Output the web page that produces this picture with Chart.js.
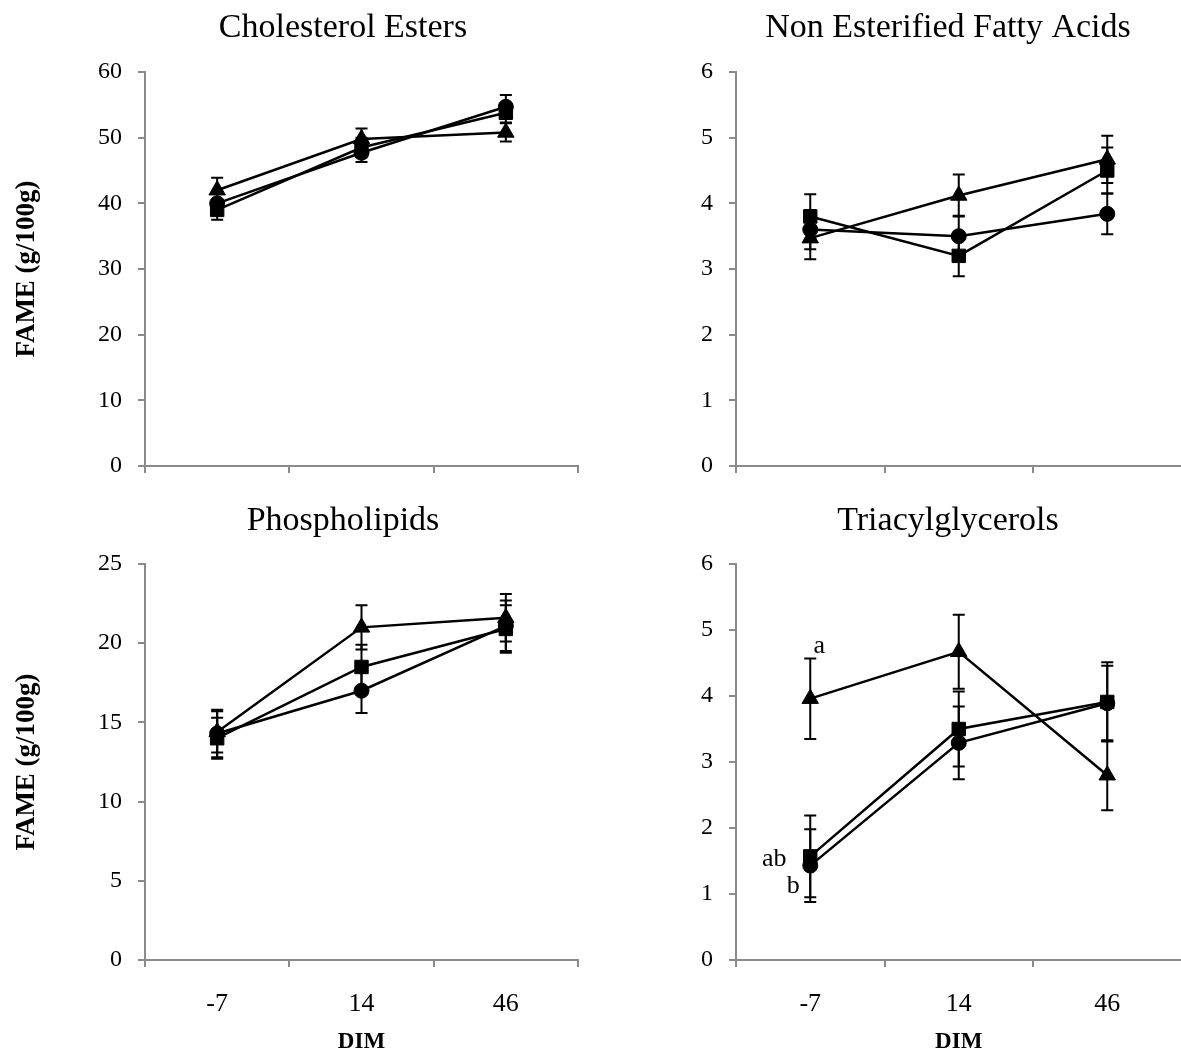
<!DOCTYPE html>
<html>
<head>
<meta charset="utf-8">
<script src="https://cdn.jsdelivr.net/npm/chart.js@4.4.1/dist/chart.umd.min.js"></script>
<style>
  html, body { margin: 0; padding: 0; background: #fff; width: 1181px; height: 1054px; overflow: hidden; }
  .panel { position: absolute; }
  .panel canvas { display: block; }
</style>
</head>
<body>
<div class="panel" style="left:0px;top:0px"><canvas id="ce" width="686" height="500"></canvas></div>
<div class="panel" style="left:590px;top:0px"><canvas id="nefa" width="716" height="500"></canvas></div>
<div class="panel" style="left:0px;top:500px"><canvas id="pl" width="686" height="554"></canvas></div>
<div class="panel" style="left:590px;top:500px"><canvas id="tag" width="716" height="554"></canvas></div>
<script>
// Days in milk (sampling points)
const days = ['-7', '14', '46'];

// Cholesterol esters (g/100 g FAME): means and SE
const ceCircle = [40.0, 47.7, 54.7];
const ceCircleSe = [1.5, 1.4, 1.8];
const ceSquare = [39.0, 48.5, 53.8];
const ceSquareSe = [1.5, 1.5, 1.5];
const ceTriangle = [42.0, 49.8, 50.8];
const ceTriangleSe = [1.9, 1.6, 1.4];

// Non esterified fatty acids
const nefaCircle = [3.60, 3.50, 3.84];
const nefaCircleSe = [0.30, 0.31, 0.31];
const nefaSquare = [3.80, 3.20, 4.50];
const nefaSquareSe = [0.34, 0.31, 0.35];
const nefaTriangle = [3.47, 4.12, 4.67];
const nefaTriangleSe = [0.32, 0.32, 0.36];

// Phospholipids
const plCircle = [14.3, 17.0, 21.1];
const plCircleSe = [1.5, 1.4, 1.6];
const plSquare = [14.0, 18.5, 20.9];
const plSquareSe = [1.3, 1.4, 1.5];
const plTriangle = [14.4, 21.0, 21.6];
const plTriangleSe = [1.3, 1.4, 1.5];

// Triacylglycerols
const tagCircle = [1.43, 3.29, 3.89];
const tagCircleSe = [0.55, 0.55, 0.57];
const tagSquare = [1.57, 3.50, 3.91];
const tagSquareSe = [0.62, 0.57, 0.60];
const tagTriangle = [3.96, 4.67, 2.80];
const tagTriangleSe = [0.61, 0.56, 0.53];

// Y axis ranges
const ceMax = 60, ceStep = 10;
const nefaMax = 6, nefaStep = 1;
const plMax = 25, plStep = 5;
const tagMax = 6, tagStep = 1;

// Significance letters for the -7 DIM triacylglycerol means
const tagLetters = ['b', 'ab', 'a'];

const SERIF = "'Liberation Serif', 'Times New Roman', serif";
const GRAY = '#8a8a8a';

// Vertical SE bars with caps, drawn beneath the markers
const errorBarPlugin = {
  id: 'errorBars',
  beforeDatasetsDraw(chart, args, opts) {
    const ctx = chart.ctx;
    const yScale = chart.scales.y;
    ctx.save();
    ctx.strokeStyle = opts.color || '#000';
    ctx.lineWidth = opts.lineWidth || 2;
    chart.data.datasets.forEach((ds, di) => {
      const meta = chart.getDatasetMeta(di);
      (ds.errors || []).forEach((e, i) => {
        const pt = meta.data[i];
        const v = ds.data[i];
        const top = yScale.getPixelForValue(v + e);
        const bot = yScale.getPixelForValue(v - e);
        const c = opts.cap || 6;
        ctx.beginPath();
        ctx.moveTo(pt.x, top); ctx.lineTo(pt.x, bot);
        ctx.moveTo(pt.x - c, top); ctx.lineTo(pt.x + c, top);
        ctx.moveTo(pt.x - c, bot); ctx.lineTo(pt.x + c, bot);
        ctx.stroke();
      });
    });
    ctx.restore();
  }
};

// Letters placed next to individual points
const letterPlugin = {
  id: 'pointLetters',
  afterDatasetsDraw(chart, args, opts) {
    const items = opts.items || [];
    if (!items.length) return;
    const ctx = chart.ctx;
    ctx.save();
    ctx.fillStyle = '#000';
    ctx.font = opts.font || ('26px ' + SERIF);
    ctx.textAlign = 'center';
    ctx.textBaseline = 'middle';
    items.forEach(it => {
      const pt = chart.getDatasetMeta(it.dataset).data[it.index];
      ctx.fillText(it.text, pt.x + it.dx, pt.y + it.dy);
    });
    ctx.restore();
  }
};

// Centre each panel title over the whole canvas rather than the padded content box
const fullWidthTitle = {
  id: 'fullWidthTitle',
  afterLayout(chart) {
    if (chart.titleBlock) {
      chart.titleBlock.left = 0;
      chart.titleBlock.right = chart.width;
      chart.titleBlock.width = chart.width;
    }
  }
};

Chart.register(errorBarPlugin, letterPlugin, fullWidthTitle);

function series(values, errors, style, radius) {
  return {
    data: values,
    errors: errors,
    borderColor: '#000',
    backgroundColor: '#000',
    borderWidth: 2.5,
    pointStyle: style,
    pointRadius: radius,
    pointHoverRadius: radius,
    pointBackgroundColor: '#000',
    pointBorderColor: '#000',
    pointBorderWidth: 1,
    tension: 0,
    fill: false
  };
}

function makePanel(id, cfg) {
  const top = cfg.row === 0;
  const left = cfg.col === 0;
  return new Chart(document.getElementById(id), {
    type: 'line',
    data: {
      labels: days,
      datasets: [
        series(cfg.circle, cfg.circleSe, 'circle', 7.5),
        series(cfg.square, cfg.squareSe, 'rect', 9.5),
        series(cfg.triangle, cfg.triangleSe, 'triangle', 9.5)
      ]
    },
    options: {
      responsive: false,
      animation: false,
      devicePixelRatio: 1,
      layout: { padding: { left: 0, right: left ? 108 : 124.5, top: 0, bottom: 0 } },
      plugins: {
        legend: { display: false },
        tooltip: { enabled: false },
        title: {
          display: true,
          text: cfg.title,
          color: '#000',
          font: { family: SERIF, size: 34, weight: 'normal', lineHeight: 1.2 },
          padding: top ? { top: 7.6, bottom: 23.6 } : { top: 0.6, bottom: 22.6 }
        },
        errorBars: { color: '#000', lineWidth: 2, cap: 6 },
        pointLetters: { items: cfg.letters || [], font: '26px ' + SERIF }
      },
      scales: {
        x: {
          type: 'category',
          offset: true,
          grid: { offset: true, drawOnChartArea: false, drawTicks: true, tickLength: 7, color: GRAY, lineWidth: 2 },
          border: { color: GRAY, width: 2 },
          ticks: { display: !top, color: '#000', font: { family: SERIF, size: 26 }, padding: 22, maxRotation: 0 },
          title: {
            display: !top,
            text: 'DIM',
            color: '#000',
            font: { family: SERIF, size: 23, weight: 'bold', lineHeight: 1 },
            padding: { top: 0, bottom: 0 }
          },
          afterFit(scale) { scale.height = top ? 34 : 94; }
        },
        y: {
          min: 0,
          max: cfg.max,
          grid: { drawOnChartArea: false, drawTicks: true, tickLength: 7, color: GRAY, lineWidth: 2 },
          border: { color: GRAY, width: 2 },
          ticks: { stepSize: cfg.step, color: '#000', font: { family: SERIF, size: 24 }, padding: 16 },
          title: {
            display: left,
            text: 'FAME (g/100g)',
            color: '#000',
            font: { family: SERIF, size: 27, weight: 'bold', lineHeight: 1.2 },
            padding: { top: 11, bottom: 0 }
          },
          afterFit(scale) { scale.width = left ? 145 : 146; }
        }
      }
    }
  });
}

makePanel('ce', {
  row: 0, col: 0, title: 'Cholesterol Esters', max: ceMax, step: ceStep,
  circle: ceCircle, circleSe: ceCircleSe, square: ceSquare, squareSe: ceSquareSe,
  triangle: ceTriangle, triangleSe: ceTriangleSe
});
makePanel('nefa', {
  row: 0, col: 1, title: 'Non Esterified Fatty Acids', max: nefaMax, step: nefaStep,
  circle: nefaCircle, circleSe: nefaCircleSe, square: nefaSquare, squareSe: nefaSquareSe,
  triangle: nefaTriangle, triangleSe: nefaTriangleSe
});
makePanel('pl', {
  row: 1, col: 0, title: 'Phospholipids', max: plMax, step: plStep,
  circle: plCircle, circleSe: plCircleSe, square: plSquare, squareSe: plSquareSe,
  triangle: plTriangle, triangleSe: plTriangleSe
});
makePanel('tag', {
  row: 1, col: 1, title: 'Triacylglycerols', max: tagMax, step: tagStep,
  circle: tagCircle, circleSe: tagCircleSe, square: tagSquare, squareSe: tagSquareSe,
  triangle: tagTriangle, triangleSe: tagTriangleSe,
  letters: [
    { text: tagLetters[0], dataset: 0, index: 0, dx: -17, dy: 21 },
    { text: tagLetters[1], dataset: 1, index: 0, dx: -36, dy: 3 },
    { text: tagLetters[2], dataset: 2, index: 0, dx: 9, dy: -52 }
  ]
});
</script>
</body>
</html>
